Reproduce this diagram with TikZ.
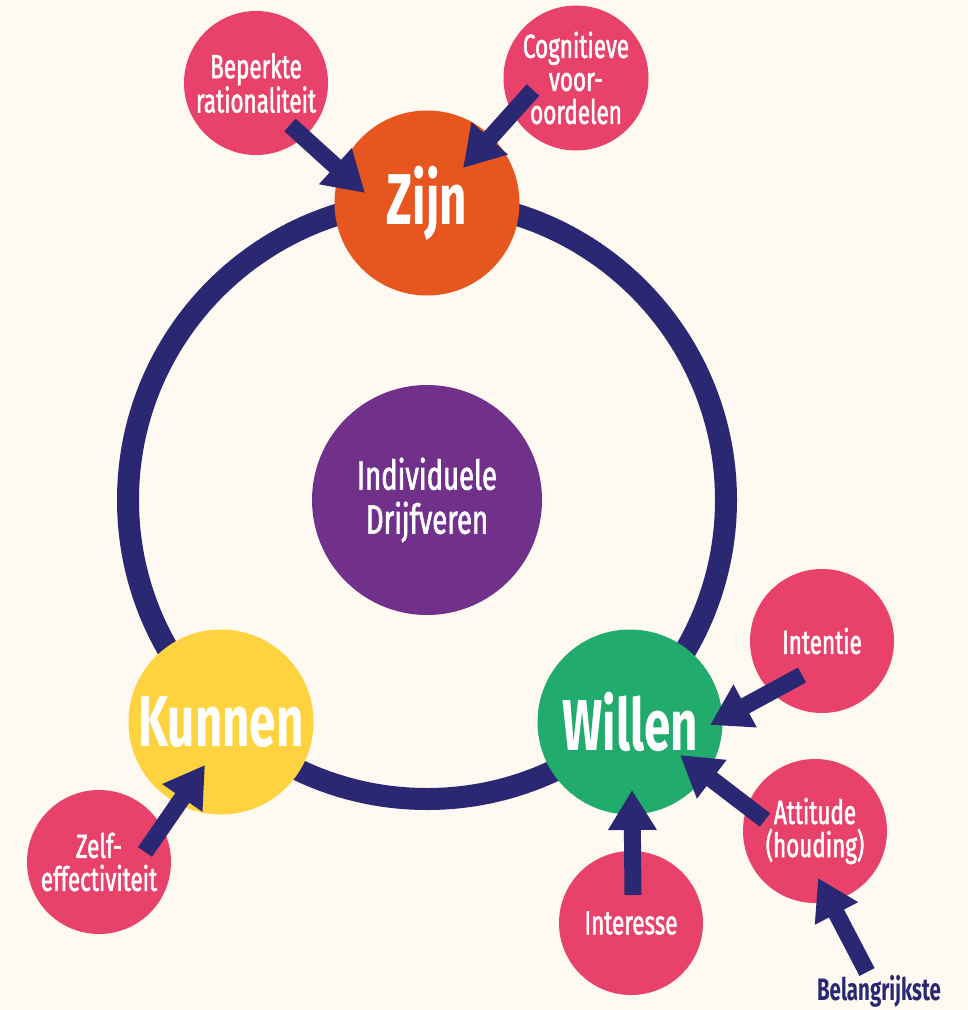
\documentclass[tikz,border=0pt]{standalone}
\usepackage{fontspec}
\setmainfont{Fira Sans}[FakeStretch=0.72]
\newfontfamily\labfont{Fira Sans}[FakeStretch=0.67, FakeBold=1.5]
\newfontfamily\bigfont{Fira Sans}[FakeStretch=0.66]
\usetikzlibrary{arrows.meta}
\definecolor{bg}{HTML}{FEF9F1}
\definecolor{navy}{HTML}{2B2873}
\definecolor{zorange}{HTML}{E8561F}
\definecolor{pinkc}{HTML}{E8426A}
\definecolor{purplec}{HTML}{71308A}
\definecolor{greenc}{HTML}{21AB6C}
\definecolor{yellowc}{HTML}{FFD23F}
\begin{document}
\begin{tikzpicture}[x=1pt,y=-1pt,
  bigc/.style={circle, minimum size=185pt, inner sep=0pt, text=white, font=\bigfont\fontsize{72}{76}\selectfont\bfseries},
  smallc/.style={circle, fill=pinkc, minimum size=144pt, inner sep=0pt, text=white, align=center, font=\labfont\fontsize{33.5}{33}\selectfont},
  conn/.style={navy, line width=17pt, -{Triangle[length=40pt,width=46pt]}},
]
\fill[bg] (0,0) rectangle (968,1010);
\useasboundingbox (0,0) rectangle (968,1010);
% ring
\node[circle, draw=navy, line width=22pt, minimum size=598pt, inner sep=0pt] (ring) at (427,500) {};
% main circles
\node[circle, fill=purplec, minimum size=230pt, inner sep=0pt, text=white, align=center, font=\labfont\fontsize{41}{44}\selectfont] (ind) at (427,500) {Individuele\\Drijfveren};
\node[bigc, fill=zorange] (zijn) at (427,203) {Zijn};
\node[bigc, fill=greenc] (willen) at (630,722) {Willen};
\node[bigc, fill=yellowc] (kunnen) at (221,722) {Kunnen};
% small circles
\node[smallc] (bep) at (256,83) {Beperkte\\rationaliteit};
\node[smallc, minimum size=145pt] (cog) at (576,78) {Cognitieve\\voor-\\oordelen};
\node[smallc] (intn) at (822,641) {Intentie};
\node[smallc] (att) at (815,831) {Attitude\\(houding)};
\node[smallc] (inter) at (631,923) {Interesse};
\node[smallc] (zelf) at (99,862) {Zelf-\\effectiviteit};
\node[text=navy, font=\bigfont\fontsize{31}{33}\selectfont\bfseries, inner sep=0pt] (bel) at (879,991) {Belangrijkste};
% arrows
\draw[conn] ([shift={(34,42)}]bep.center) -- ([shift={(-62,-10)}]zijn.center);
\draw[conn] ([shift={(-43,12)}]cog.center) -- ([shift={(36,-35)}]zijn.center);
\draw[conn] ([shift={(-20,34)}]intn.center) -- ([shift={(80,3)}]willen.center);
\draw[conn] ([shift={(-50,-11)}]att.center) -- ([shift={(50,33)}]willen.center);
\draw[conn] ([shift={(2,-28)}]inter.center) -- ([shift={(2,68)}]willen.center);
\draw[conn] ([shift={(-12,-19)}]bel.center) -- ([shift={(3,47)}]att.center);
\draw[conn] ([shift={(46,-10)}]zelf.center) -- ([shift={(-16,43)}]kunnen.center);
\end{tikzpicture}
\end{document}
